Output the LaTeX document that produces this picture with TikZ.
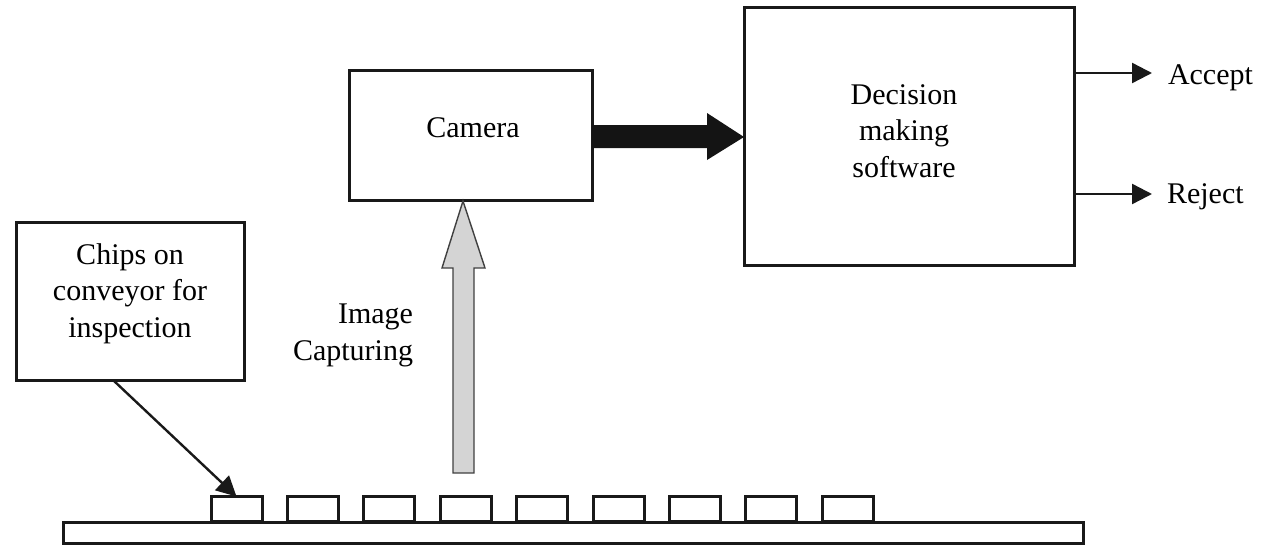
\documentclass[tikz,border=0pt]{standalone}
\usepackage{fontspec}
\setmainfont{Liberation Serif}
\usetikzlibrary{arrows.meta}
\tikzset{
  box/.style={draw=black!90, line width=3pt, rectangle, inner sep=0pt, outer sep=0pt},
  lbl/.style={font=\fontsize{30}{36.5}\selectfont, align=center, inner sep=0pt, outer sep=0pt, anchor=base},
  conn/.style={draw=black!90, line width=2.4pt, -{Triangle[length=20pt,width=20pt]}},
  chipbox/.style={box, minimum width=51pt, minimum height=25pt},
}
\begin{document}
\begin{tikzpicture}[x=1pt,y=-1pt]
\useasboundingbox (0,0) rectangle (1270,544);
% boxes
\node[box, minimum width=243pt, minimum height=130pt] (camera) at (470.5,135) {};
\node[box, minimum width=330pt, minimum height=258pt] (decision) at (909,136) {};
\node[box, minimum width=228pt, minimum height=158pt] (chips) at (130,301) {};
\node[box, minimum width=1020pt, minimum height=21pt] (conveyor) at (573,532.5) {};
\foreach \i in {1,...,9}{
  \node[chipbox] (chip\i) at ({236.5+(\i-1)*76.4},509) {};
}
% labels (base anchor = baseline of the last line)
\node[lbl] (camtext) at (473,137) {Camera};
\node[lbl] (dectext) at (904,177) {Decision\\making\\software};
\node[lbl] (chiptext) at (130,337) {Chips on\\conveyor for\\inspection};
\node[lbl, align=right, anchor=base east] (imgtext) at (413,360) {Image\\Capturing};
\node[lbl, anchor=base west] (accept) at (1168,84) {Accept};
\node[lbl, anchor=base west] (reject) at (1167,203) {Reject};
% accept / reject connectors
\coordinate (acctip) at (1152,73);
\coordinate (rejtip) at (1152,194);
\draw[conn] (decision.east |- acctip) -- (acctip);
\draw[conn] (decision.east |- rejtip) -- (rejtip);
% chips box to first chip
\coordinate (chipsout) at (113,380);
\draw[conn] (chipsout) -- (chip1.north);
% black block arrow camera -> decision
\fill[black!92] (camera.east |- 0,125) -- (707,125) -- (707,113) -- (decision.west |- 0,137)
  -- (707,160) -- (707,148) -- (camera.east |- 0,148) -- cycle;
% grey block arrow conveyor -> camera
\filldraw[fill=black!17, draw=black!75, line width=1.4pt]
  (453,473) -- (453,268) -- (442,268) -- (463,201) -- (485,268) -- (474,268) -- (474,473) -- cycle;
\end{tikzpicture}
\end{document}
